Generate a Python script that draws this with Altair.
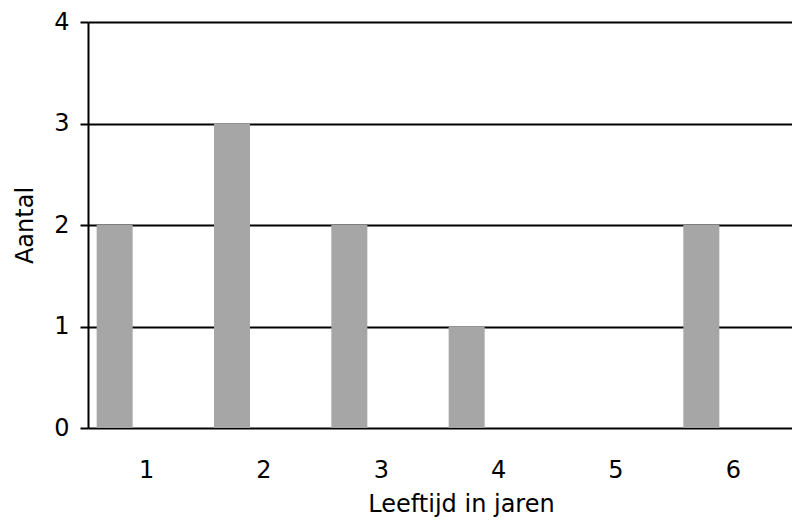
import altair as alt
import pandas as pd

ages = ["1", "2", "3", "4", "5", "6"]
counts = [2, 3, 2, 1, 0, 2]
y_ticks = [0, 1, 2, 3, 4]

df = pd.DataFrame({"leeftijd": ages, "aantal": counts})

FONT = "DejaVu Sans"

chart = alt.Chart(df).mark_bar(
    color="#a6a6a6", width=36, xOffset=-32
).encode(
    x=alt.X(
        "leeftijd:O",
        sort=ages,
        scale=alt.Scale(paddingInner=0, paddingOuter=0),
        axis=alt.Axis(
            title="Leeftijd in jaren",
            labelAngle=0,
            labelFontSize=24,
            labelFont=FONT,
            labelColor="black",
            labelPadding=30,
            ticks=False,
            domain=False,
            titleFontSize=24,
            titleFont=FONT,
            titleFontWeight="normal",
            titleColor="black",
            titlePadding=10,
            titleX=373,
        ),
    ),
    y=alt.Y(
        "aantal:Q",
        scale=alt.Scale(domain=[0, 4]),
        axis=alt.Axis(
            title="Aantal",
            values=y_ticks,
            format="d",
            labelFontSize=24,
            labelFont=FONT,
            labelColor="black",
            labelPadding=11,
            tickSize=8,
            tickWidth=2,
            tickColor="black",
            domainColor="black",
            domainWidth=2,
            grid=True,
            gridColor="black",
            gridWidth=2,
            gridOpacity=1,
            titleFontSize=24,
            titleFont=FONT,
            titleFontWeight="normal",
            titleColor="black",
            titlePadding=16,
        ),
    ),
).properties(
    width=704,
    height=406,
    autosize=alt.AutoSizeParams(type="none"),
    padding={"left": 80, "top": 14, "right": 0, "bottom": 90},
).configure_view(stroke=None).configure_axisX(grid=False)

chart.save("out.html", embed_options={"renderer": "svg", "actions": False})
